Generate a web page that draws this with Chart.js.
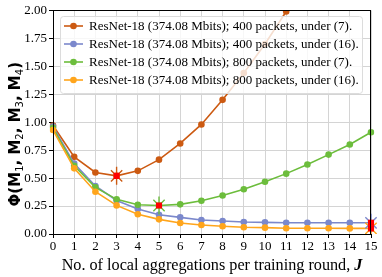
<!DOCTYPE html>
<html>
<head>
<meta charset="utf-8">
<script src="https://cdn.jsdelivr.net/npm/chart.js@4.4.1/dist/chart.umd.min.js"></script>
<style>
html, body { margin: 0; padding: 0; background: #fff; }
#wrap { width: 382px; height: 277px; }
</style>
</head>
<body>
<div id="wrap"><canvas id="chart"></canvas></div>
<script>
// local aggregations per round, J
const rounds = ["0", "1", "2", "3", "4", "5", "6", "7", "8", "9", "10", "11", "12", "13", "14", "15"];
const y_ticks = [0, 0.25, 0.5, 0.75, 1, 1.25, 1.5, 1.75, 2];

const legend_names = [
    "ResNet-18 (374.08 Mbits); 400 packets, under (7).",
    "ResNet-18 (374.08 Mbits); 400 packets, under (16).",
    "ResNet-18 (374.08 Mbits); 800 packets, under (7).",
    "ResNet-18 (374.08 Mbits); 800 packets, under (16)."
];
const colors = ["#cc5a12", "#7b88cc", "#6cbd3c", "#ffa51c"];

const p400_eq7 = [0.97, 0.69, 0.55, 0.52, 0.565, 0.665, 0.81, 0.98, 1.20, 1.44, 1.70, 1.99, null, null, null, null];
const p400_eq16 = [0.96, 0.63, 0.43, 0.30, 0.223, 0.172, 0.149, 0.125, 0.116, 0.107, 0.104, 0.101, 0.10, 0.10, 0.10, 0.10];
const p800_eq7 = [0.95, 0.61, 0.417, 0.31, 0.262, 0.255, 0.265, 0.297, 0.345, 0.40, 0.467, 0.54, 0.622, 0.71, 0.80, 0.91];
const p800_eq16 = [0.93, 0.587, 0.378, 0.256, 0.176, 0.131, 0.098, 0.08, 0.069, 0.06, 0.057, 0.051, 0.051, 0.051, 0.05, 0.05];

// optimum J for each curve (index into rounds), marked with a red point
const best_j = [3, 15, 5, 15];
const series = [p400_eq7, p400_eq16, p800_eq7, p800_eq16];

const only_at = (values, j) => values.map((v, i) => (i === j ? v : null));

const serif = "'Liberation Serif', 'DejaVu Serif', serif";

let datasets = [];
series.forEach((values, k) => {
    datasets.push({
        label: legend_names[k],
        data: values,
        borderColor: colors[k],
        backgroundColor: colors[k],
        borderWidth: 1.6,
        pointRadius: 3.3,
        pointHoverRadius: 3.3,
        pointBorderWidth: 0,
        pointBackgroundColor: colors[k],
        tension: 0,
        order: 20 - k
    });
});
// the star markers: an X, a vertical bar, then the red point on top
series.forEach((values, k) => {
    datasets.push({
        label: "x" + k,
        data: only_at(values, best_j[k]),
        showLine: false,
        pointStyle: "crossRot",
        pointRadius: 8,
        pointBorderWidth: 1.4,
        pointBorderColor: colors[k],
        order: 5
    });
    datasets.push({
        label: "v" + k,
        data: only_at(values, best_j[k]),
        showLine: false,
        pointStyle: "line",
        rotation: 90,
        pointRadius: 9,
        pointBorderWidth: 1.4,
        pointBorderColor: colors[k],
        order: 5
    });
    datasets.push({
        label: "r" + k,
        data: only_at(values, best_j[k]),
        showLine: false,
        pointStyle: "rect",
        pointRadius: 4.3,
        pointBorderWidth: 0,
        pointBackgroundColor: "#ff0000",
        order: 1
    });
});

const frame_and_legend = {
    id: "frame_and_legend",
    afterDraw(chart) {
        const ctx = chart.ctx;
        const a = chart.chartArea;
        ctx.save();
        ctx.strokeStyle = "#000";
        ctx.lineWidth = 1;
        ctx.strokeRect(Math.round(a.left) + 0.5, Math.round(a.top) + 0.5,
            Math.round(a.right - a.left) - 1, Math.round(a.bottom - a.top));

        // legend box inside the plot
        const bx = 60, by = 16, bw = 302, bh = 77;
        ctx.beginPath();
        ctx.roundRect(bx + 0.5, by + 0.5, bw, bh, 3);
        ctx.fillStyle = "rgba(255,255,255,0.8)";
        ctx.fill();
        ctx.strokeStyle = "#dcdcdc";
        ctx.stroke();
        ctx.font = "13px " + serif;
        ctx.textBaseline = "middle";
        legend_names.forEach((name, k) => {
            const yy = 26 + k * 18;
            ctx.strokeStyle = colors[k];
            ctx.lineWidth = 1.6;
            ctx.beginPath();
            ctx.moveTo(64, yy);
            ctx.lineTo(83, yy);
            ctx.stroke();
            ctx.fillStyle = colors[k];
            ctx.beginPath();
            ctx.arc(73.5, yy, 3.3, 0, Math.PI * 2);
            ctx.fill();
            ctx.fillStyle = "#000";
            ctx.fillText(name, 89, yy + 1);
        });

        // x axis title with italic J
        ctx.font = "16.2px " + serif;
        ctx.textBaseline = "alphabetic";
        const t1 = "No. of local aggregations per training round, ";
        const w1 = ctx.measureText(t1).width;
        ctx.font = "italic bold 16.2px " + serif;
        const w2 = ctx.measureText("J").width;
        let x0 = (a.left + a.right) / 2 - (w1 + w2) / 2;
        ctx.fillStyle = "#000";
        ctx.font = "16.2px " + serif;
        ctx.fillText(t1, x0, 270);
        ctx.font = "italic bold 16.2px " + serif;
        ctx.fillText("J", x0 + w1, 270);

        // y axis title, rotated, bold with plain subscripts
        const parts = [["Φ(M", 0], ["1", 1], [", M", 0], ["2", 1], [", M", 0], ["3", 1], [", M", 0], ["4", 1], [")", 0]];
        const big = "bold 15px 'DejaVu Sans', sans-serif";
        const small = "10px 'DejaVu Sans', sans-serif";
        let total = 0;
        parts.forEach(([t, sub]) => {
            ctx.font = sub ? small : big;
            total += ctx.measureText(t).width;
        });
        ctx.translate(20, (a.top + a.bottom) / 2 + 12);
        ctx.rotate(-Math.PI / 2);
        let px = -total / 2;
        parts.forEach(([t, sub]) => {
            ctx.font = sub ? small : big;
            ctx.fillText(t, px, sub ? 3 : 0);
            px += ctx.measureText(t).width;
        });
        ctx.restore();
    }
};

new Chart(document.getElementById("chart"), {
    type: "line",
    data: { labels: rounds, datasets: datasets },
    options: {
        responsive: true,
        maintainAspectRatio: false,
        animation: false,
        layout: { padding: { top: 10, right: 11, left: 0, bottom: 0 } },
        plugins: { legend: { display: false }, tooltip: { enabled: false } },
        scales: {
            x: {
                offset: false,
                afterFit: (scale) => { scale.height = 43; },
                grid: { color: "#d4d4d4", lineWidth: 1, tickLength: 4, tickColor: "#000" },
                border: { display: true, color: "#000" },
                ticks: { color: "#000", font: { family: serif, size: 13 }, padding: 1, maxRotation: 0, autoSkip: false }
            },
            y: {
                min: 0,
                max: 2,
                afterFit: (scale) => { scale.width = 53; },
                afterBuildTicks: (scale) => { scale.ticks = y_ticks.map((v) => ({ value: v })); },
                grid: { color: "#d4d4d4", lineWidth: 1, tickLength: 4, tickColor: "#000" },
                border: { display: true, color: "#000" },
                ticks: {
                    color: "#000",
                    font: { family: serif, size: 13 },
                    padding: 2,
                    callback: (v) => v.toFixed(2)
                }
            }
        }
    },
    plugins: [frame_and_legend]
});
</script>
</body>
</html>
